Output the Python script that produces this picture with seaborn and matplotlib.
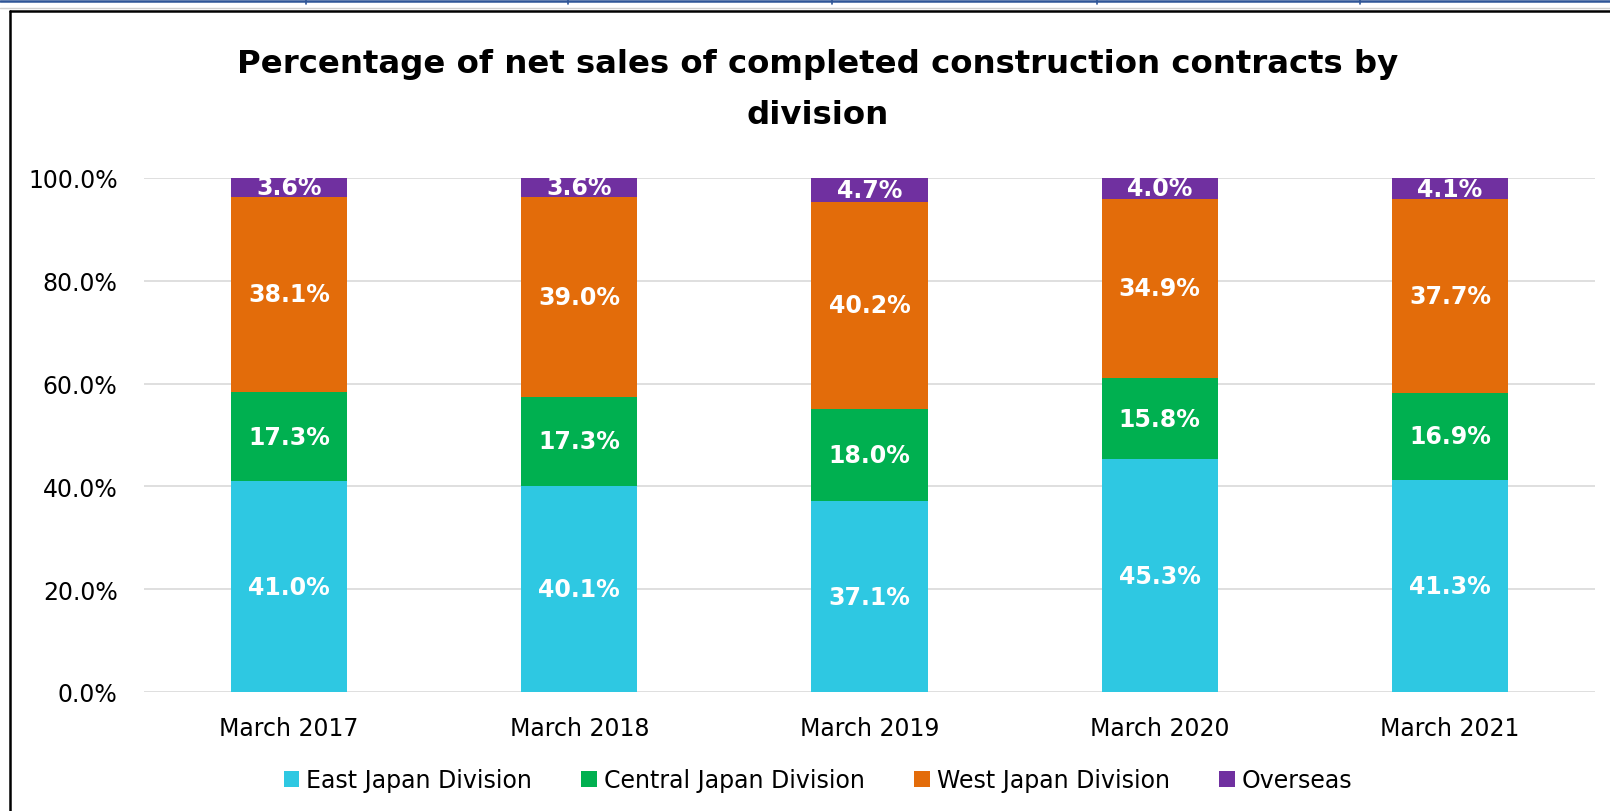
import pandas as pd
import matplotlib.pyplot as plt
import seaborn as sns
from matplotlib.patches import Patch
from matplotlib.lines import Line2D

# Data (percent of net sales)
periods = ['March 2017', 'March 2018', 'March 2019', 'March 2020', 'March 2021']
divisions = ['East Japan Division', 'Central Japan Division', 'West Japan Division', 'Overseas']
east = [41.0, 40.1, 37.1, 45.3, 41.3]
central = [17.3, 17.3, 18.0, 15.8, 16.9]
west = [38.1, 39.0, 40.2, 34.9, 37.7]
overseas = [3.6, 3.6, 4.7, 4.0, 4.1]
colors = ['#2EC8E2', '#00B050', '#E36C0A', '#7030A0']

df = pd.DataFrame({'period': periods, 'East Japan Division': east,
                   'Central Japan Division': central,
                   'West Japan Division': west, 'Overseas': overseas})
# cumulative tops for stacking
cum = df[divisions].cumsum(axis=1)
cum['period'] = periods

sns.set_style('white')
plt.rcParams['font.family'] = ['DejaVu Sans']
plt.rcParams['text.color'] = 'black'

fig = plt.figure(figsize=(16.1, 8.12), dpi=100)
ax = fig.add_axes([144 / 1610, 1 - 693 / 812, (1595 - 144) / 1610, (693 - 179) / 812])

# draw from the top layer down so lower layers cover upper ones
for div, col in reversed(list(zip(divisions, colors))):
    sns.barplot(data=cum, x='period', y=div, color=col, width=0.4,
                saturation=1, linewidth=0, edgecolor='none', ax=ax, zorder=3)

# segment labels
for i in range(len(periods)):
    base = 0
    for div in divisions:
        v = df.loc[i, div]
        ax.text(i, base + v / 2, f'{v:.1f}%', ha='center', va='center',
                color='white', fontsize=17, fontweight='bold', zorder=5)
        base += v

ax.set_ylim(0, 100)
ax.set_xlim(-0.5, 4.5)
ax.set_yticks([0, 20, 40, 60, 80, 100])
ax.set_yticklabels([f'{t:.1f}%' for t in [0, 20, 40, 60, 80, 100]])
ax.set_xlabel('')
ax.set_ylabel('')
ax.grid(axis='y', color='#D9D9D9', linewidth=1.2, zorder=0)
ax.set_axisbelow(True)
for s in ax.spines.values():
    s.set_visible(False)
ax.tick_params(axis='y', length=0, pad=19, labelsize=17, labelcolor='#000000')
ax.tick_params(axis='x', length=0, pad=17, labelsize=17, labelcolor='#000000')

handles = [Patch(facecolor=c, edgecolor='none', label=d) for d, c in zip(divisions, colors)]
fig.legend(handles=handles, loc='center', bbox_to_anchor=(818 / 1610, 1 - 781 / 812),
           ncol=4, frameon=False, fontsize=17, handlelength=0.65, handleheight=0.65,
           handletextpad=0.3, columnspacing=2.1, labelcolor='black')

fig.text(818 / 1610, 1 - 90 / 812,
         'Percentage of net sales of completed construction contracts by\ndivision',
         ha='center', va='center', fontsize=23.3, fontweight='bold', linespacing=1.8,
         color='black')

# frame and top strip
fig.add_artist(Line2D([10 / 1610, 10 / 1610], [0, 1 - 12 / 812], color='black', linewidth=1.8))
fig.add_artist(Line2D([10 / 1610, 1], [1 - 12 / 812, 1 - 12 / 812], color='black', linewidth=1.8))
fig.add_artist(Line2D([0, 1], [1 - 2 / 812, 1 - 2 / 812], color='#2F5597', linewidth=1.8))
fig.add_artist(Line2D([0, 1], [1 - 9 / 812, 1 - 9 / 812], color='#D0D0D0', linewidth=1))
for xp in [306, 568, 832, 1097, 1360]:
    fig.add_artist(Line2D([xp / 1610, xp / 1610], [1 - 5 / 812, 1], color='#2F5597', linewidth=1.2))

fig.savefig('out.png', dpi=100)
